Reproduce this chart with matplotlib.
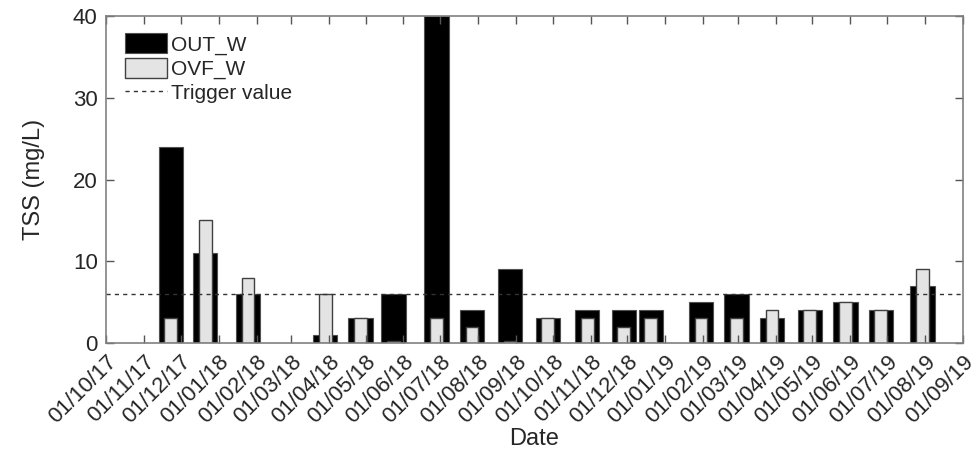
import matplotlib
matplotlib.use('Agg')
import matplotlib.pyplot as plt
import matplotlib.dates as mdates
from datetime import datetime

plt.rcParams['font.family'] = ['Liberation Sans', 'DejaVu Sans']

# sampling dates and TSS values (mg/L)
fechas = ['2017-11-23', '2017-12-21', '2018-01-25', '2018-03-29', '2018-04-27',
          '2018-05-24', '2018-06-28', '2018-07-27', '2018-08-27', '2018-09-27',
          '2018-10-29', '2018-11-28', '2018-12-20', '2019-01-30', '2019-02-28',
          '2019-03-29', '2019-04-29', '2019-05-28', '2019-06-26', '2019-07-30']
out_w = [24, 11, 6, 1, 3, 6, 40, 4, 9, 3, 4, 4, 4, 5, 6, 3, 4, 5, 4, 7]
ovf_w = [3, 15, 8, 6, 3, 0.3, 3, 2, 0.3, 3, 3, 2, 3, 3, 3, 4, 4, 5, 4, 9]
trigger = 6

fechas = [datetime.strptime(f, '%Y-%m-%d') for f in fechas]
ticks = [datetime(2017 + (9 + i) // 12, (9 + i) % 12 + 1, 1) for i in range(24)]

fig = plt.figure(figsize=(9.76, 4.59), dpi=100)
ax = fig.add_axes([0.1086, 0.2527, 0.878, 0.7124])

b1 = ax.bar(fechas, out_w, width=20, color='black', edgecolor='#505050',
            linewidth=0.8, label='OUT_W')
b2 = ax.bar(fechas, ovf_w, width=10.5, color='#e4e4e4', edgecolor='#404040',
            linewidth=1.0, label='OVF_W')
l1 = ax.axhline(trigger, color='#333333', linestyle=(0, (3, 3)), linewidth=1.0,
                label='Trigger value')

ax.set_xlim(ticks[0], ticks[-1])
ax.set_ylim(0, 40)
ax.set_yticks([0, 10, 20, 30, 40])
ax.set_xticks(ticks)
ax.xaxis.set_major_formatter(mdates.DateFormatter('%d/%m/%y'))
plt.setp(ax.get_xticklabels(), rotation=45, ha='right', rotation_mode='anchor')

ax.tick_params(direction='in', length=6, width=1, color='#555555',
               top=True, right=True, labelsize=16, labelcolor='#262626', pad=6)
for s in ax.spines.values():
    s.set_color('#808080')
    s.set_linewidth(1.2)

ax.set_xlabel('Date', fontsize=17, color='#262626', labelpad=0)
ax.set_ylabel('TSS (mg/L)', fontsize=17, color='#262626', labelpad=20)

ax.legend([b1, b2, l1], ['OUT_W', 'OVF_W', 'Trigger value'],
          loc='upper left', frameon=False, fontsize=15, handlelength=2.0,
          handleheight=1.1, handletextpad=0.2, labelspacing=0.15,
          borderaxespad=0.2, bbox_to_anchor=(0.008, 0.985), labelcolor='#262626')

fig.savefig('out.png', dpi=100)
